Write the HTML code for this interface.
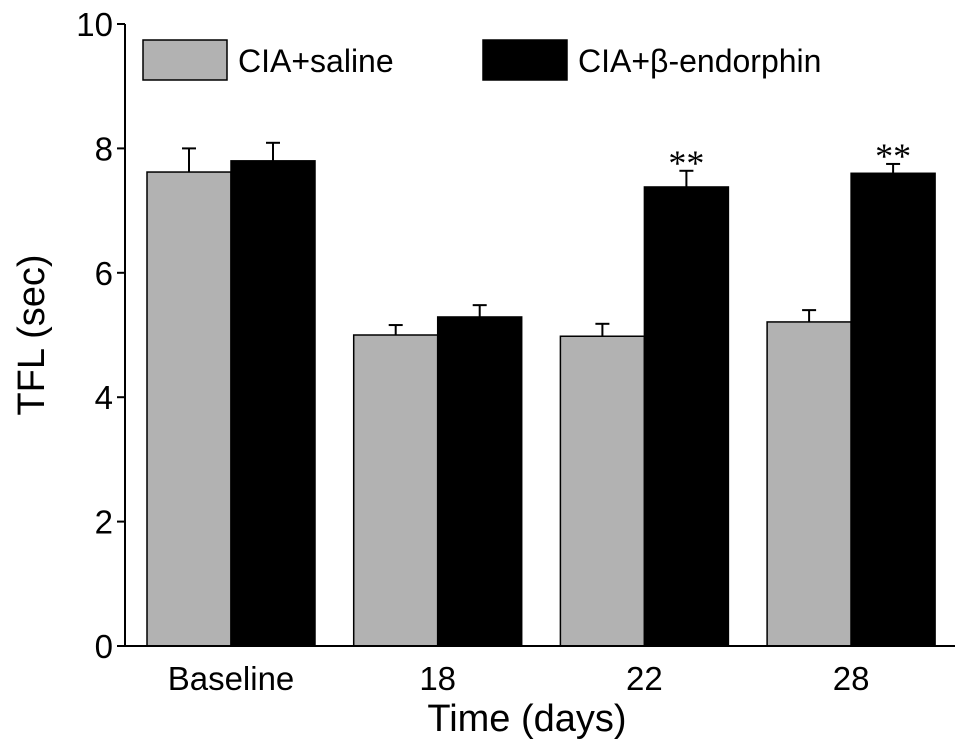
<!DOCTYPE html>
<html><head><meta charset="utf-8"><style>
html,body{margin:0;padding:0;background:#fff;}
svg{display:block;font-family:"Liberation Sans",Arial,sans-serif;}
</style></head><body>
<svg id="chart" width="968" height="748" viewBox="0 0 968 748"></svg>
<script>
const categories = ["Baseline","18","22","28"];
const salineValues = [7.62, 5.00, 4.98, 5.21];
const salineErrors = [0.38, 0.16, 0.20, 0.19];
const endorphinValues = [7.80, 5.29, 7.38, 7.60];
const endorphinErrors = [0.29, 0.19, 0.26, 0.15];
const significance = ["", "", "**", "**"];
const yTicks = [0, 2, 4, 6, 8, 10];

const svg = document.getElementById('chart');
const NS = 'http://www.w3.org/2000/svg';
const x0 = 125, x1 = 955, yBase = 646, yTop = 24;
const y = v => yBase - (v / 10) * (yBase - yTop);
const groupW = 206.7, firstCenter = 231, barW = 84;
const cx = i => firstCenter + i * groupW;
function mk(tag, attrs, text){
  const e = document.createElementNS(NS, tag);
  for (const k in attrs) e.setAttribute(k, attrs[k]);
  if (text !== undefined) e.textContent = text;
  svg.appendChild(e); return e;
}
function drawSeries(vals, errs, offset, fill, name){
  vals.forEach((v, i) => {
    const left = cx(i) + offset;
    const top = y(v), et = y(v + errs[i]), mid = left + barW / 2;
    const eb = mk('line', {x1: mid, x2: mid, y1: top, y2: et, stroke: '#000', 'stroke-width': 2});
    
    
    const cap = mk('line', {x1: mid - 7, x2: mid + 7, y1: et, y2: et, stroke: '#000', 'stroke-width': 2});
    
    
    const r = mk('rect', {x: left, y: top, width: barW, height: yBase - top, fill: fill, stroke: '#000', 'stroke-width': 1.5});
    
    
  });
}
drawSeries(salineValues, salineErrors, -barW, '#b2b2b2', 'saline');
drawSeries(endorphinValues, endorphinErrors, 0, '#000', 'endorphin');
significance.forEach((s, i) => {
  if (!s) return;
  const t = mk('text', {x: cx(i) + barW / 2, y: y(endorphinValues[i] + endorphinErrors[i]) + 4, 'text-anchor': 'middle', 'font-size': 36, 'font-family': '"Liberation Serif",serif'}, s);
  
  
});
const ya = mk('line', {x1: x0, x2: x0, y1: yTop, y2: yBase, stroke: '#000', 'stroke-width': 2});
 
const xa = mk('line', {x1: x0, x2: x1, y1: yBase, y2: yBase, stroke: '#000', 'stroke-width': 2});
 
yTicks.forEach(v => {
  const tk = mk('line', {x1: x0 - 8, x2: x0, y1: y(v), y2: y(v), stroke: '#000', 'stroke-width': 2});
   
  const tl = mk('text', {x: x0 - 12, y: y(v) + 12, 'text-anchor': 'end', 'font-size': 33}, String(v));
   
});
categories.forEach((c, i) => {
  const t = mk('text', {x: cx(i), y: 690, 'text-anchor': 'middle', 'font-size': 33}, c);
   
});
</script>
<svg width="968" height="748" style="position:absolute;left:0;top:0;pointer-events:none">
<text x="527" y="731" text-anchor="middle" font-size="38">Time (days)</text>
<text transform="translate(44,335) rotate(-90)" text-anchor="middle" font-size="38">TFL (sec)</text>
<rect x="143" y="40" width="84" height="40" fill="#b2b2b2" stroke="#000" stroke-width="1.5"/>
<text x="238" y="72" font-size="32">CIA+saline</text>
<rect x="483" y="40" width="84" height="40" fill="#000" stroke="#000" stroke-width="1.5"/>
<text x="578" y="72" font-size="32">CIA+β-endorphin</text>
</svg>
</body></html>
